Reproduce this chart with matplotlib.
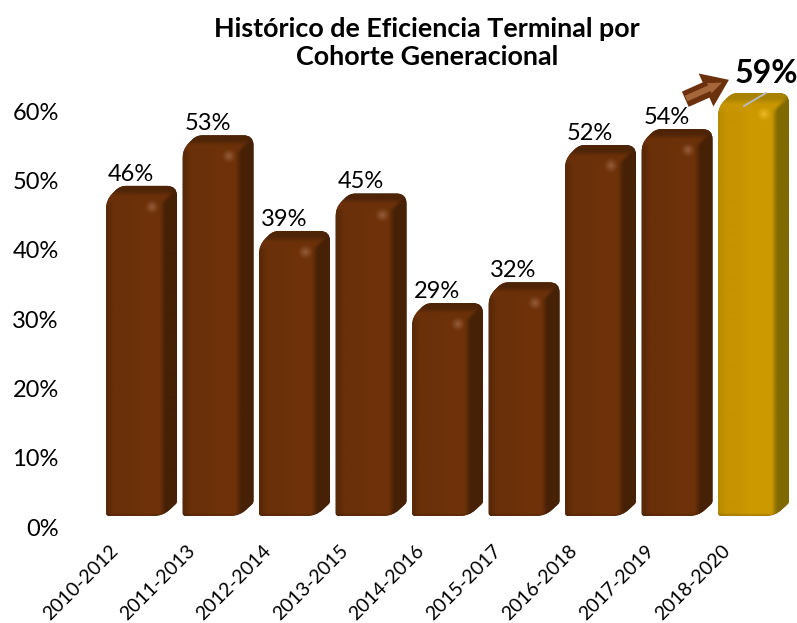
# -*- coding: utf-8 -*-
"""
Historico de eficiencia terminal, bars with a fake 3D look
"""

import numpy as np
import matplotlib
matplotlib.use("Agg")
import matplotlib.pyplot as plt
from matplotlib.path import Path
from matplotlib.patches import PathPatch
from matplotlib.lines import Line2D
from matplotlib.transforms import IdentityTransform, ScaledTranslation

plt.rcParams['font.family'] = ['Lato', 'DejaVu Sans']

cohortes = ['2010-2012', '2011-2013', '2012-2014', '2013-2015', '2014-2016',
            '2015-2017', '2016-2018', '2017-2019', '2018-2020']
eficiencia = [45.7, 53.0, 39.2, 44.6, 28.8, 31.8, 51.6, 53.9, 59.1]
y_ticks = [0, 10, 20, 30, 40, 50, 60]

W, H = 797, 623
BROWN = dict(front=(106, 48, 9), left=(90, 41, 8), side=(70, 33, 6),
             top=(78, 36, 7), spot=(160, 105, 72))
GOLD = dict(front=(198, 148, 0), left=(184, 140, 0), side=(128, 106, 0),
            top=(168, 131, 0), spot=(245, 195, 50))


def rounded(points, radii):
    """Closed path through pixel points, each corner rounded with its radius"""
    pts = np.array(points, dtype=float)
    n = len(pts)
    verts, codes = [], []
    for i in range(n):
        p, a, b = pts[i], pts[i - 1], pts[(i + 1) % n]
        s = p + (a - p) / np.linalg.norm(a - p) * radii[i]
        e = p + (b - p) / np.linalg.norm(b - p) * radii[i]
        verts += [s, p, e]
        codes += [Path.LINETO, Path.CURVE3, Path.CURVE3]
    codes[0] = Path.MOVETO
    verts.append(verts[0])
    codes.append(Path.CLOSEPOLY)
    return Path(verts, codes)


def paint(ax, img, box, clip, z):
    """Put an RGBA array on the pixel box (x0, y0, x1, y1), clipped to a patch"""
    inv = ax.transData.inverted()
    (a, b), (c, d) = inv.transform([(box[0], box[1]), (box[2], box[3])])
    im = ax.imshow(img, extent=(a, c, b, d), origin='lower', aspect='auto',
                   interpolation='bilinear', zorder=z)
    if clip is not None:
        im.set_clip_path(clip)


def step(v, a, b):
    t = np.clip((v - a) / (b - a), 0, 1)
    return t * t * (3 - 2 * t)


def mix(a, b, t):
    return a * (1 - t[..., None]) + b * t[..., None]


def draw_bar(ax, i, value, pal):
    depth = 14
    half = 28.5
    xc, y0 = ax.transData.transform((i, 1.6))
    _, yt = ax.transData.transform((i, value + 3.5))
    x0, x1 = xc - half, xc + half
    ft = yt - depth
    z = 2 + i

    outline = rounded([(x0, y0), (x1, y0), (x1 + depth, y0 + depth - 1),
                       (x1 + depth, yt), (x0 + depth, yt), (x0, ft)],
                      [3, 9, 2, 10, 6, 9])
    patch = PathPatch(outline, fc=np.array(pal['side']) / 255, ec='none',
                      transform=IdentityTransform(), zorder=z, clip_on=False)
    ax.add_patch(patch)

    # one shaded image for front, side and top, cut with the outline
    box = (x0, y0, x1 + depth, yt)
    xs = np.arange(np.floor(x0), np.ceil(x1 + depth) + 1)
    ys = np.arange(np.floor(y0), np.ceil(yt) + 1)
    xx, yy = np.meshgrid(xs, ys)
    front, side = np.array(pal['front'], float), np.array(pal['side'], float)
    top, left = np.array(pal['top'], float), np.array(pal['left'], float)

    col = mix(left, front, step(xx, x0, x0 + 9))
    col = mix(col, front * 1.04, step(xx, x0 + 18, x0 + 35))
    col = mix(col, side, step(xx, x1 - 5, x1 + 3))
    # top face: above the diagonal that runs back from the front corner
    d = (yy - ft) - np.maximum(0, xx - x1)
    col = mix(col, mix(front * 1.02, top, step(yy, ft + 3, yt - 3)), step(d, -5, 3))
    # rim at the bottom of the front
    col = mix(col, col * 0.86, (1 - step(yy, y0, y0 + 3)) * (xx < x1 + 2))
    paint(ax, np.clip(col / 255, 0, 1), box, patch, z)

    # small shine on the corner
    g = np.linspace(-1, 1, 25)
    gx, gy = np.meshgrid(g, g)
    rgba = np.zeros((25, 25, 4))
    rgba[..., :3] = np.array(pal['spot']) / 255
    rgba[..., 3] = np.clip(1 - np.hypot(gx, gy), 0, 1) ** 1.2 * 0.8
    sx, sy = x1 - 11, yt - 21
    paint(ax, rgba, (sx - 8, sy - 8, sx + 8, sy + 8), None, z)

    return x1, yt


fig = plt.figure(figsize=(W / 100, H / 100), dpi=100)
ax = fig.add_axes([96.25 / W, (H - 527) / H, (823 - 96.25) / W, 458 / H])

ax.set_xlim(-0.5, 9)
ax.set_ylim(0, 458 / 6.933)

for i, v in enumerate(eficiencia):
    pal = GOLD if i == len(eficiencia) - 1 else BROWN
    x1, yt = draw_bar(ax, i, v, pal)
    if i == len(eficiencia) - 1:
        ax.add_line(Line2D([x1 - 31, x1 - 9], [yt - 13, yt], color='#b9b9b9', lw=1.4,
                           transform=IdentityTransform(), zorder=20))
        ax.annotate('%.0f%%' % v, (i, v + 3.5), xytext=(14, 14), textcoords='offset points',
                    ha='center', va='center', fontsize=23, fontweight='bold', color='black',
                    annotation_clip=False, zorder=21)
    else:
        ax.annotate('%.0f%%' % v, (i, v + 3.5), xytext=(-2.5, 8.5), textcoords='offset points',
                    ha='center', va='center', fontsize=17, color='black', zorder=21)

ax.set_xlim(-0.5, 9)
ax.set_ylim(0, 458 / 6.933)

# arrow going up to the last value
ax.annotate('', xy=(7.77, 64.5), xytext=(7.2, 61.7),
            arrowprops=dict(arrowstyle='simple,head_length=0.9,head_width=1.3,tail_width=0.6',
                            mutation_scale=20, fc='#6b300c', ec='none', lw=0,
                            shrinkA=0, shrinkB=0), zorder=22)
ax.annotate('', xy=(7.68, 64.1), xytext=(7.21, 61.8),
            arrowprops=dict(arrowstyle='simple,head_length=0.5,head_width=0.4,tail_width=0.22',
                            mutation_scale=20, fc='#a5663a', ec='none', lw=0,
                            shrinkA=0, shrinkB=0), zorder=23)

for s in ax.spines.values():
    s.set_visible(False)
ax.patch.set_visible(False)

ax.set_yticks(y_ticks)
ax.set_yticklabels(['%d%%' % t for t in y_ticks], fontsize=17)
ax.set_xticks(range(len(cohortes)))
ax.set_xticklabels(cohortes, fontsize=14, rotation=45, ha='right', rotation_mode='anchor')
ax.tick_params(axis='y', length=0, pad=27)
ax.tick_params(axis='x', length=0, pad=11)
shift = ScaledTranslation(-18 / 72, 0, fig.dpi_scale_trans)
for lab in ax.get_xticklabels():
    lab.set_transform(lab.get_transform() + shift)

fig.text(427 / W, 1 - 43 / H, 'Histórico de Eficiencia Terminal por\nCohorte Generacional',
         ha='center', va='center', fontsize=19.4, fontweight='bold', linespacing=1.2)

fig.savefig('out.png', dpi=100)
